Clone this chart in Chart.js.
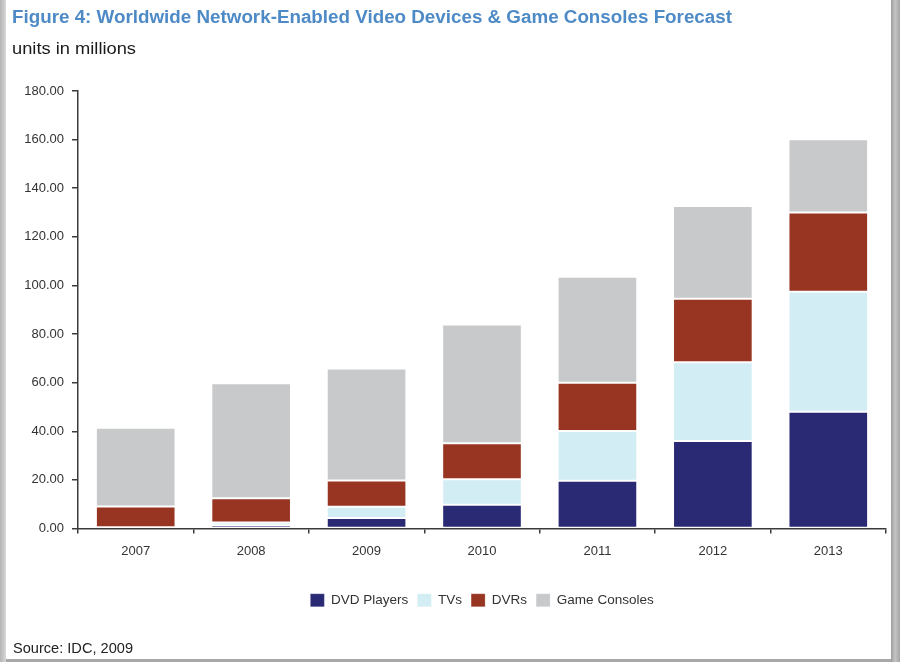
<!DOCTYPE html>
<html>
<head>
<meta charset="utf-8">
<script src="https://cdn.jsdelivr.net/npm/chart.js@4/dist/chart.umd.min.js"></script>
<style>
  html, body { margin: 0; padding: 0; }
  body { width: 900px; height: 662px; position: relative; overflow: hidden; background: #a8a8a8; }
  #leftEdge { position: absolute; left: 0; top: 0; width: 6px; height: 662px; background: linear-gradient(to right, #b4b4b4, #d8d8d8); }
  #rightEdge { position: absolute; left: 891px; top: 0; width: 9px; height: 662px; background: linear-gradient(to right, #9c9c9c, #c4c4c4 45%, #a4a4a4); }
  #paper { position: absolute; left: 6px; top: 0; width: 885px; height: 659px; background: #ffffff; }
  #chartWrap { position: absolute; left: 0; top: 0; width: 900px; height: 662px; }
  #texts { position: absolute; left: 0; top: 0; pointer-events: none; }
</style>
</head>
<body>
<div id="leftEdge"></div>
<div id="rightEdge"></div>
<div id="paper"></div>
<div id="chartWrap"><canvas id="c" width="900" height="662"></canvas></div>
<svg id="texts" width="900" height="662" xmlns="http://www.w3.org/2000/svg">
  <text x="12" y="23" font-family="Liberation Sans, Arial, sans-serif" font-weight="bold" font-size="18" fill="#4d8ac6" textLength="720" lengthAdjust="spacingAndGlyphs">Figure 4: Worldwide Network-Enabled Video Devices &amp; Game Consoles Forecast</text>
  <text x="12" y="54" font-family="Liberation Sans, Arial, sans-serif" font-size="16" fill="#1a1a1a" textLength="124" lengthAdjust="spacingAndGlyphs">units in millions</text>
  <text x="13" y="653" font-family="Liberation Sans, Arial, sans-serif" font-size="15" fill="#222222" textLength="120" lengthAdjust="spacingAndGlyphs">Source: IDC, 2009</text>
</svg>
<script>
// ---- data ----
const years = ['2007', '2008', '2009', '2010', '2011', '2012', '2013'];
const dvdPlayers = [0.2, 1.3, 4.3, 9.8, 19.6, 36.0, 48.0];
const tvs = [0.3, 1.2, 4.7, 10.5, 20.5, 32.4, 49.4];
const dvrs = [8.6, 9.9, 10.7, 14.8, 19.9, 26.1, 32.6];
const gameConsoles = [32.4, 47.4, 46.1, 48.8, 43.6, 38.2, 30.2];
const yTicks = [0, 20, 40, 60, 80, 100, 120, 140, 160, 180];

const FONT = 'Liberation Sans, Arial, sans-serif';
const edge = 'rgba(255,255,255,0.22)';
const LEGEND_FONT = 13.5, LEGEND_PAD = 9, LEGEND_BOX_H = 13;
const LEGEND_H = Math.max(LEGEND_FONT, LEGEND_BOX_H) + LEGEND_PAD + 10;

function ds(label, data, color) {
  return {
    label: label,
    data: data,
    backgroundColor: color,
    borderColor: edge,
    borderWidth: 1,
    borderSkipped: false,
    categoryPercentage: 1.0,
    barPercentage: 0.69
  };
}

new Chart(document.getElementById('c'), {
  type: 'bar',
  data: {
    labels: years,
    datasets: [
      ds('DVD Players', dvdPlayers, '#2a2a74'),
      ds('TVs', tvs, '#d2edf4'),
      ds('DVRs', dvrs, '#973522'),
      ds('Game Consoles', gameConsoles, '#c8c9cb')
    ]
  },
  options: {
    responsive: false,
    animation: false,
    devicePixelRatio: 1,
    layout: { padding: { left: 0, right: 14, top: 91, bottom: 45 } },
    plugins: {
      title: { display: false },
      tooltip: { enabled: false },
      legend: {
        display: true,
        position: 'bottom',
        fullSize: false,
        labels: {
          boxWidth: 14,
          boxHeight: LEGEND_BOX_H,
          padding: LEGEND_PAD,
          color: '#333333',
          font: { family: FONT, size: LEGEND_FONT }
        }
      }
    },
    scales: {
      x: {
        stacked: true,
        offset: true,
        grid: {
          display: true,
          offset: true,
          drawOnChartArea: false,
          drawTicks: true,
          tickLength: 5,
          color: '#3a3a3a',
          lineWidth: 1.5
        },
        border: { display: true, color: '#3a3a3a', width: 1.5 },
        ticks: {
          color: '#333333',
          font: { family: FONT, size: 13 },
          padding: 10,
          maxRotation: 0
        },
        afterFit: function (scale) {
          scale.height = 662 - 45 - LEGEND_H - 528.5;
        }
      },
      y: {
        stacked: true,
        min: 0,
        max: 180,
        afterBuildTicks: function (scale) {
          scale.ticks = yTicks.map(v => ({ value: v }));
        },
        grid: {
          display: true,
          drawOnChartArea: false,
          drawTicks: true,
          tickLength: 6,
          color: '#3a3a3a',
          lineWidth: 1.5
        },
        border: { display: true, color: '#3a3a3a', width: 1.5 },
        ticks: {
          color: '#333333',
          font: { family: FONT, size: 13 },
          padding: 8,
          callback: function (v) { return Number(v).toFixed(2); }
        },
        afterFit: function (scale) { scale.width = 78; }
      }
    }
  }
});
</script>
</body>
</html>
